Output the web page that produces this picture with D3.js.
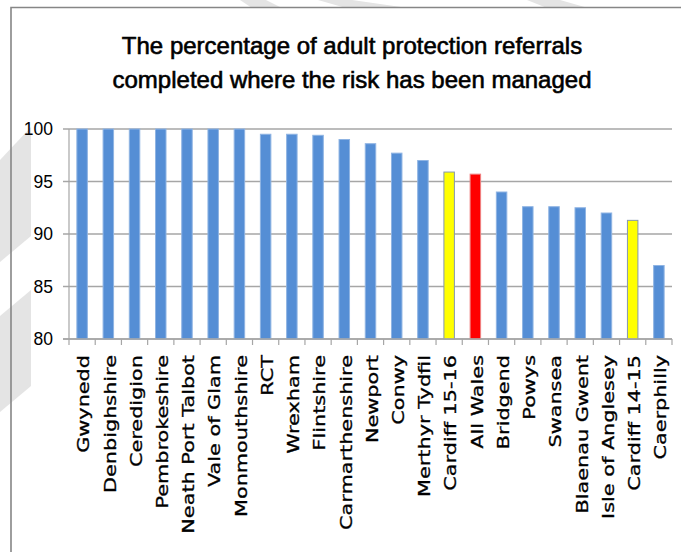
<!DOCTYPE html>
<html>
<head>
<meta charset="utf-8">
<style>
body { margin: 0; background: #fff; }
.title { font-family: "Liberation Sans", Arial, sans-serif; font-size: 24px; fill: #000; stroke: #000; stroke-width: 0.6px; }
.ylab { font-family: "Liberation Sans", Arial, sans-serif; font-size: 17.5px; fill: #000; }
.xlab { font-family: "DejaVu Sans", Verdana, sans-serif; font-size: 16px; fill: #000; stroke: #000; stroke-width: 0.3px; }
</style>
</head>
<body>
<div id="chart"></div>
<script src="https://cdn.jsdelivr.net/npm/d3@7"></script>
<script>
// chart data
var areas = ["Gwynedd", "Denbighshire", "Ceredigion", "Pembrokeshire", "Neath Port Talbot",
    "Vale of Glam", "Monmouthshire", "RCT", "Wrexham", "Flintshire", "Carmarthenshire",
    "Newport", "Conwy", "Merthyr Tydfil", "Cardiff 15-16", "All Wales", "Bridgend", "Powys",
    "Swansea", "Blaenau Gwent", "Isle of Anglesey", "Cardiff 14-15", "Caerphilly"];
var percent = [100, 100, 100, 100, 100, 100, 100, 99.5, 99.5, 99.4, 99.0,
    98.6, 97.7, 97.0, 95.9, 95.7, 94.0, 92.6, 92.6, 92.5, 92.0, 91.3, 87.0];
var yTicks = [80, 85, 90, 95, 100];
var highlightYellow = ["Cardiff 15-16", "Cardiff 14-15"];
var highlightRed = ["All Wales"];
var titleLines = ["The percentage of adult protection referrals",
    "completed where the risk has been managed"];

var W = 681, H = 552;
var svg = d3.select("#chart").append("svg").attr("width", W).attr("height", H);

// faint watermark shapes from the page behind the chart
var marks = [
    [[240, 0], [266, 0], [282, 8], [252, 8]],
    [[318, 0], [352, 0], [408, 8], [346, 8]],
    [[527, 0], [560, 0], [588, 8], [547, 8]],
    [[31, 127], [31, 236], [0, 262], [0, 160]],
    [[31, 290], [31, 386], [0, 412], [0, 316]]
];
svg.selectAll("polygon.wm").data(marks).enter().append("polygon")
    .attr("class", "wm")
    .attr("points", function (d) { return d.join(" "); })
    .attr("fill", "#e4e4e4");

// chart border (top and left visible)
svg.append("path")
    .attr("d", "M11,552 V7.5 H681")
    .attr("fill", "none")
    .attr("stroke", "#868686")
    .attr("stroke-width", 1.6);

var x = d3.scaleBand().domain(areas).range([69, 672]).paddingInner(0.6).paddingOuter(0.3);
var y = d3.scaleLinear().domain([80, 100]).range([339, 129]);
var step = x.step();

// title
svg.selectAll("text.title").data(titleLines).enter().append("text")
    .attr("class", "title")
    .attr("x", 352)
    .attr("y", function (d, i) { return 54 + i * 34; })
    .attr("text-anchor", "middle")
    .text(function (d) { return d; });

// gridlines
svg.selectAll("line.grid").data(yTicks).enter().append("line")
    .attr("x1", 63).attr("x2", 672)
    .attr("y1", function (d) { return y(d); })
    .attr("y2", function (d) { return y(d); })
    .attr("stroke", "#a6a6a6")
    .attr("stroke-width", 1.5);

// y axis line
svg.append("line")
    .attr("x1", 69).attr("x2", 69)
    .attr("y1", y(100)).attr("y2", y(80))
    .attr("stroke", "#a6a6a6")
    .attr("stroke-width", 1.2);

// category ticks below the axis
var bounds = d3.range(areas.length + 1).map(function (i) { return 69 + i * step; });
svg.selectAll("line.ctick").data(bounds).enter().append("line")
    .attr("x1", function (d) { return d; })
    .attr("x2", function (d) { return d; })
    .attr("y1", y(80)).attr("y2", y(80) + 6)
    .attr("stroke", "#a6a6a6")
    .attr("stroke-width", 1.2);

// y tick labels
svg.selectAll("text.ylab").data(yTicks).enter().append("text")
    .attr("class", "ylab")
    .attr("x", 53)
    .attr("y", function (d) { return y(d); })
    .attr("dy", "0.36em")
    .attr("text-anchor", "end")
    .text(function (d) { return d; });

function barColor(name) {
    if (highlightRed.indexOf(name) >= 0) return "#ff0000";
    if (highlightYellow.indexOf(name) >= 0) return "#ffff00";
    return "#558ed5";
}
function barEdge(name) {
    if (highlightRed.indexOf(name) >= 0) return "#f08080";
    if (highlightYellow.indexOf(name) >= 0) return "#8497b0";
    return "#8fb4e3";
}

// bars
svg.selectAll("rect.bar").data(areas).enter().append("rect")
    .attr("x", function (d) { return x(d); })
    .attr("width", x.bandwidth())
    .attr("y", function (d, i) { return y(percent[i]); })
    .attr("height", function (d, i) { return y(80) - y(percent[i]); })
    .attr("fill", function (d) { return barColor(d); })
    .attr("stroke", function (d) { return barEdge(d); })
    .attr("stroke-width", 1);

// x axis line on top of bars
svg.append("line")
    .attr("x1", 63).attr("x2", 672)
    .attr("y1", y(80)).attr("y2", y(80))
    .attr("stroke", "#a6a6a6")
    .attr("stroke-width", 1.5);

// rotated category labels
svg.selectAll("text.xlab").data(areas).enter().append("text")
    .attr("class", "xlab")
    .attr("transform", function (d) {
        return "translate(" + (x(d) + x.bandwidth() / 2 + 1.5) + ",355) rotate(-90) scale(1.3,1)";
    })
    .attr("dy", "0.36em")
    .attr("text-anchor", "end")
    .text(function (d) { return d; });
</script>
</body>
</html>
